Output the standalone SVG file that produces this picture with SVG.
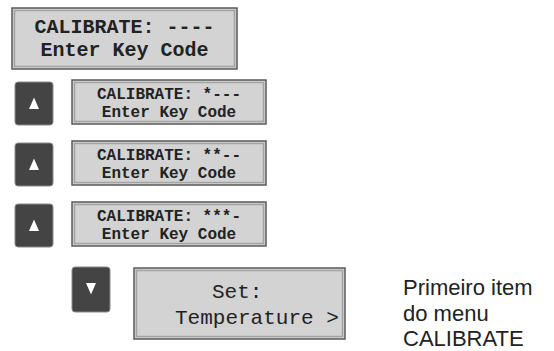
<svg xmlns="http://www.w3.org/2000/svg" width="554" height="351" viewBox="0 0 554 351">
<style>
.lcd{fill:#d3d3d3;stroke:#5a5a5a;stroke-width:1.5}
.bev{fill:none;stroke:#a3a3a3;stroke-width:1.5}
.btn{fill:#444;stroke:#8a8a8a;stroke-width:1}
.tri{fill:#fff}
.mono{font-family:"Liberation Mono","Courier New",monospace;fill:#222}
.b{font-weight:bold}
.c{text-anchor:middle}
.s{font-size:16px}
.note{font-family:"Liberation Sans",Arial,sans-serif;font-size:22px;fill:#222}
</style>
<rect width="554" height="351" fill="#fff"/>
<g id="lcd1">
<rect class="lcd" x="12" y="8" width="225" height="61"/>
<rect class="bev" x="14.5" y="10.5" width="220" height="56"/>
<text class="mono b c" x="124.5" y="33" font-size="20">CALIBRATE: ----</text>
<text class="mono b c" x="124.5" y="56" font-size="20">Enter Key Code</text>
</g>
<g id="btn1">
<rect class="btn" x="15" y="82" width="38" height="43" rx="3"/>
<polygon class="tri" points="34,97.5 29,109 39,109"/>
</g>
<g id="lcd2">
<rect class="lcd" x="72" y="80" width="194" height="44"/>
<rect class="bev" x="74.5" y="82.5" width="189" height="39"/>
<text class="mono b c s" x="169" y="98.5">CALIBRATE: *---</text>
<text class="mono b c s" x="169" y="117">Enter Key Code</text>
</g>
<g id="btn2">
<rect class="btn" x="15" y="143" width="38" height="43" rx="3"/>
<polygon class="tri" points="34,158.5 29,170 39,170"/>
</g>
<g id="lcd3">
<rect class="lcd" x="72" y="141" width="194" height="44"/>
<rect class="bev" x="74.5" y="143.5" width="189" height="39"/>
<text class="mono b c s" x="169" y="159.5">CALIBRATE: **--</text>
<text class="mono b c s" x="169" y="178">Enter Key Code</text>
</g>
<g id="btn3">
<rect class="btn" x="15" y="204" width="38" height="43" rx="3"/>
<polygon class="tri" points="34,219.5 29,231 39,231"/>
</g>
<g id="lcd4">
<rect class="lcd" x="72" y="202" width="194" height="44"/>
<rect class="bev" x="74.5" y="204.5" width="189" height="39"/>
<text class="mono b c s" x="169" y="220.5">CALIBRATE: ***-</text>
<text class="mono b c s" x="169" y="239">Enter Key Code</text>
</g>
<g id="btn4">
<rect class="btn" x="72" y="267" width="38" height="45" rx="3"/>
<polygon class="tri" points="86,283 96,283 91,294.5"/>
</g>
<g id="lcd5">
<rect class="lcd" x="134" y="268" width="211" height="71"/>
<rect class="bev" x="136.5" y="270.5" width="206" height="66"/>
<text class="mono" x="212" y="298" font-size="21">Set:</text>
<text class="mono" x="175" y="324" font-size="21">Temperature &gt;</text>
</g>
<g id="note">
<text class="note" x="403" y="295">Primeiro item</text>
<text class="note" x="403" y="321">do menu</text>
<text class="note" x="403" y="346">CALIBRATE</text>
</g>
<g id="connectors"/>
</svg>
